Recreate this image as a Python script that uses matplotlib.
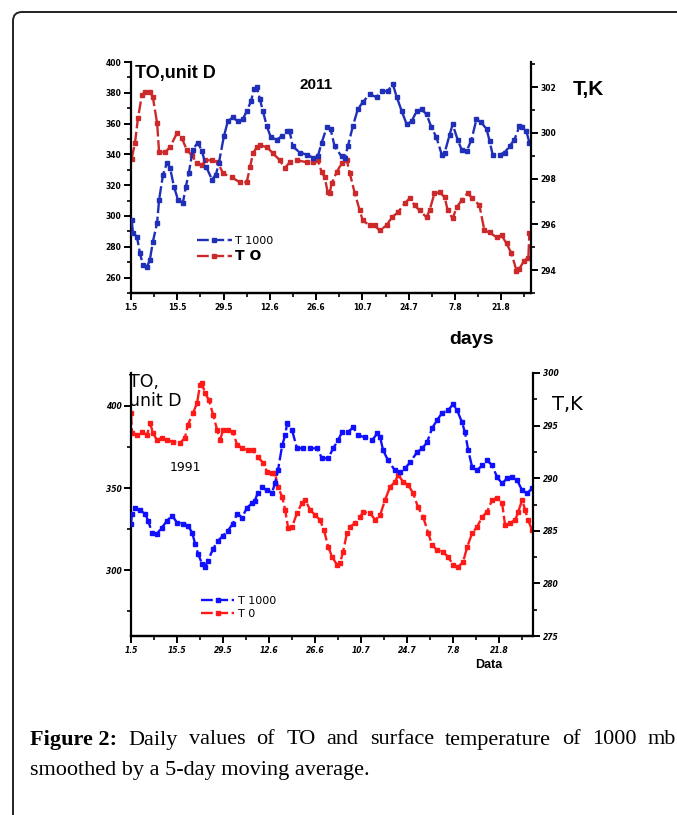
import matplotlib
matplotlib.use("Agg")
import matplotlib.pyplot as plt
from matplotlib.patches import FancyBboxPatch
from matplotlib.transforms import IdentityTransform
from matplotlib.ticker import MultipleLocator

# ---- 2011 panel (days since start) ----
days_to_2011 = [0.2, 1.2, 2.1, 3.3, 4.2, 5.7, 6.6, 7.9, 8.5, 10.3, 11.8, 13.9, 15.4, 16.9,
                18.4, 19.9, 21.5, 22.4, 24.5, 26.3, 27.8, 30.5, 32.9, 35.0, 36.0, 36.9,
                38.1, 39.0, 41.1, 42.9, 45.0, 46.5, 48.0, 50.2, 53.2, 55.0, 56.5, 57.7,
                58.6, 59.5, 60.1, 60.7, 62.2, 63.7, 65.3, 66.2, 67.7, 69.2, 70.1, 72.2,
                73.7, 75.2, 77.3, 78.9, 80.7, 82.8, 84.3, 85.8, 87.3, 89.4, 90.3, 91.8,
                93.4, 94.9, 95.8, 97.3, 98.5, 100.0, 101.8, 103.3, 105.4, 106.9, 108.5,
                110.6, 112.1, 113.6, 115.1, 116.6, 117.5, 119.0, 120.2, 120.5]
to_2011 = [337.3, 347.3, 363.5, 378.5, 380.5, 380.5, 377.2, 360.3, 341.4, 341.4, 344.7,
           353.8, 350.5, 342.7, 339.5, 334.2, 332.9, 336.2, 336.2, 334.9, 327.7, 325.1,
           321.9, 321.9, 331.6, 340.8, 344.7, 346.0, 344.7, 340.8, 336.2, 331.0, 334.9,
           336.2, 334.9, 334.9, 336.2, 328.4, 325.1, 315.4, 314.7, 321.2, 328.4, 334.2,
           336.2, 327.7, 314.7, 303.6, 297.1, 293.9, 293.9, 290.6, 293.9, 299.1, 302.3,
           308.2, 311.5, 306.9, 303.6, 299.1, 303.6, 314.7, 315.4, 312.1, 303.6, 298.4,
           305.6, 310.2, 314.7, 311.5, 306.9, 290.6, 289.3, 286.1, 287.4, 282.2, 275.7,
           264.6, 265.9, 271.1, 273.0, 288.7]

days_t_2011 = [0.2, 0.6, 1.8, 2.7, 3.6, 4.8, 5.7, 6.6, 7.9, 8.5, 9.7, 10.9, 11.8, 13.0,
               14.2, 15.7, 16.6, 17.5, 18.7, 20.2, 21.5, 22.7, 24.5, 25.7, 26.6, 28.1,
               29.3, 30.8, 32.3, 33.8, 35.0, 36.3, 37.2, 38.1, 39.0, 39.9, 41.1, 42.3,
               44.1, 45.6, 47.1, 48.0, 48.9, 51.1, 53.2, 55.0, 56.5, 57.7, 59.2, 60.4,
               61.6, 63.7, 64.7, 65.6, 67.1, 68.6, 70.1, 72.2, 74.3, 75.8, 77.6, 79.2,
               80.4, 81.9, 83.4, 84.9, 86.4, 87.9, 89.4, 90.9, 92.4, 94.0, 94.9, 96.4,
               97.3, 98.8, 100.0, 101.5, 103.0, 104.5, 106.0, 107.6, 108.5, 109.4, 111.5,
               113.0, 114.5, 116.0, 117.5, 118.4, 119.6, 120.5]
t1000_2011 = [296.20, 295.63, 295.45, 294.75, 294.22, 294.13, 294.44, 295.23, 296.07,
              297.08, 298.18, 298.70, 298.48, 297.65, 297.08, 296.95, 297.65, 298.26,
              299.27, 299.58, 299.19, 298.53, 297.96, 298.18, 298.70, 299.85, 300.51,
              300.68, 300.51, 300.59, 300.95, 301.38, 301.91, 302.00, 301.47, 300.95,
              300.29, 299.80, 299.71, 299.85, 300.07, 300.07, 299.41, 299.14, 299.05,
              298.92, 298.97, 299.58, 300.24, 300.15, 299.41, 298.97, 298.92, 299.41,
              300.29, 301.03, 301.34, 301.69, 301.56, 301.82, 301.82, 302.13, 301.56,
              300.95, 300.37, 300.51, 300.95, 301.03, 300.81, 300.24, 299.80, 299.05,
              299.14, 299.93, 300.37, 299.71, 299.27, 299.19, 299.71, 300.59, 300.46,
              300.15, 299.63, 299.05, 299.05, 299.14, 299.41, 299.71, 300.29, 300.24,
              300.07, 299.58]

# ---- 1991 panel ----
days_to_1991 = [0.0, 0.3, 1.8, 3.3, 4.9, 5.8, 6.7, 7.9, 9.4, 11.0, 12.8, 14.9, 16.4, 17.3,
                18.9, 20.1, 21.0, 21.6, 22.5, 23.7, 25.0, 26.2, 27.1, 28.0, 29.5, 31.0,
                32.3, 33.8, 35.6, 37.1, 38.6, 40.2, 41.4, 42.9, 43.8, 44.7, 46.0, 46.9,
                47.8, 49.0, 50.5, 52.0, 53.0, 54.5, 56.0, 57.5, 58.7, 60.0, 61.2, 62.7,
                63.6, 64.5, 65.7, 66.6, 68.2, 69.7, 70.6, 72.7, 74.3, 75.8, 77.3, 78.8,
                80.3, 81.3, 82.8, 84.3, 85.8, 87.3, 88.9, 90.4, 91.6, 93.1, 94.9, 96.5,
                98.0, 99.5, 101.0, 102.3, 103.8, 105.3, 106.8, 108.3, 109.9, 111.4, 112.9,
                113.8, 115.3, 116.9, 117.8, 119.0, 119.9, 120.8, 122.0]
to_1991 = [395.7, 383.5, 382.3, 384.1, 382.3, 389.6, 383.5, 379.2, 380.5, 379.2, 378.0,
           377.4, 380.5, 388.4, 395.7, 401.8, 412.7, 413.9, 407.8, 403.6, 394.5, 385.3,
           379.2, 385.3, 385.3, 384.1, 376.2, 374.4, 373.2, 373.2, 368.9, 365.3, 359.8,
           359.2, 359.2, 350.7, 344.6, 336.7, 325.7, 326.3, 334.8, 340.9, 342.8, 336.7,
           333.6, 330.6, 324.5, 314.2, 308.1, 303.2, 304.4, 311.1, 322.7, 326.3, 328.8,
           332.4, 335.5, 334.8, 330.6, 333.6, 342.8, 350.7, 353.7, 358.0, 353.7, 351.9,
           347.0, 338.5, 332.4, 322.7, 315.4, 312.3, 311.1, 308.1, 303.2, 302.0, 305.0,
           314.2, 322.7, 326.3, 332.4, 335.5, 342.8, 344.0, 340.9, 327.5, 328.8, 330.6,
           335.5, 342.8, 336.7, 330.6, 324.5]

days_t_1991 = [0.0, 0.3, 1.2, 2.7, 4.3, 5.2, 6.4, 7.9, 9.4, 11.0, 12.5, 14.0, 15.8, 17.3,
               18.6, 19.5, 20.4, 21.6, 22.5, 23.4, 25.0, 26.5, 28.0, 29.5, 31.0, 32.3,
               33.8, 35.3, 36.8, 37.7, 38.6, 39.9, 41.4, 42.9, 43.8, 44.7, 46.0, 46.9,
               47.5, 49.0, 50.5, 52.3, 54.5, 56.6, 58.1, 60.0, 61.5, 63.0, 64.2, 66.0,
               67.6, 69.1, 71.2, 73.4, 74.9, 75.8, 76.7, 78.2, 80.3, 81.9, 83.4, 84.9,
               87.0, 88.6, 90.1, 91.6, 93.1, 94.6, 96.5, 98.0, 99.2, 100.7, 101.6, 102.6,
               103.8, 105.3, 106.8, 108.3, 109.9, 111.4, 112.9, 114.4, 115.9, 117.5,
               119.0, 120.5, 122.0]
t1000_1991 = [285.69, 286.64, 287.12, 286.93, 286.64, 285.97, 284.83, 284.73, 285.31,
              285.97, 286.45, 285.78, 285.69, 285.50, 284.83, 283.78, 282.82, 281.87,
              281.58, 282.16, 283.30, 284.06, 284.54, 285.02, 285.69, 286.64, 286.26,
              287.21, 287.60, 287.88, 288.64, 289.12, 288.84, 288.64, 289.50, 290.74,
              293.13, 294.08, 295.23, 294.56, 292.84, 292.84, 292.84, 292.84, 291.89,
              291.89, 292.84, 293.61, 294.37, 294.37, 294.85, 294.08, 293.89, 293.61,
              294.27, 293.89, 292.65, 291.70, 290.74, 290.55, 290.94, 291.51, 292.46,
              292.84, 293.42, 294.75, 295.52, 296.18, 296.47, 297.04, 296.47, 295.32,
              294.37, 292.65, 291.03, 290.74, 291.22, 291.70, 291.22, 290.08, 289.50,
              289.98, 290.08, 289.79, 288.84, 288.55, 289.03]

date_ticks = [0, 14, 28, 42, 56, 70, 84, 98, 112]
date_labels = ["1.5", "15.5", "29.5", "12.6", "26.6", "10.7", "24.7", "7.8", "21.8"]

caption_head = "Figure 2:"
caption_l1 = "Daily values of TO and surface temperature of 1000 mb"
caption_l2 = "smoothed by a 5-day moving average."

NARROW = ["Liberation Sans", "DejaVu Sans"]
W, H = 677, 815


def style_axes(ax, axr, fs, lab_style):
    for a in (ax, axr):
        a.spines["top"].set_visible(False)
        for s in ("left", "right", "bottom"):
            a.spines[s].set_linewidth(1.6)
        a.tick_params(which="major", length=5, width=1.4, direction="out",
                      labelsize=fs, pad=2)
        a.tick_params(which="minor", length=3, width=1.2, direction="out")
        for lab in a.get_xticklabels() + a.get_yticklabels():
            lab.set_fontweight("bold")
            lab.set_fontstyle(lab_style)
    ax.spines["right"].set_visible(False)
    axr.spines["left"].set_visible(False)
    ax.set_xticks(date_ticks)
    ax.set_xticklabels(date_labels, fontsize=fs, fontweight="bold", fontstyle=lab_style)
    ax.xaxis.set_minor_locator(MultipleLocator(7))


fig = plt.figure(figsize=(W / 100, H / 100), dpi=100)
fig.patch.set_facecolor("white")

# rounded frame around the figure
fig.add_artist(FancyBboxPatch((13, -30), 720, H - 12 + 30,
                              boxstyle="round,pad=0,rounding_size=9",
                              transform=IdentityTransform(), fill=False,
                              ec="#222222", lw=1.4))

line_kw = dict(linestyle=(0, (5, 1.5)), linewidth=1.7, marker="s", markersize=2.2)

# ---------------- top panel (2011) ----------------
ax1 = fig.add_axes([131 / W, 1 - 293 / H, 400 / W, 231 / H])
ax1r = ax1.twinx()
h_red, = ax1.plot(days_to_2011, to_2011, color="#cc2a2a", label="T O", **line_kw)
h_blue, = ax1r.plot(days_t_2011, t1000_2011, color="#1f2fb8", label="T 1000", **line_kw)
ax1.set_xlim(0, 121)
ax1.set_ylim(250, 400)
ax1.set_yticks([260, 280, 300, 320, 340, 360, 380, 400])
ax1.yaxis.set_minor_locator(MultipleLocator(10))
ax1r.set_ylim(293, 303.1)
ax1r.set_yticks([294, 296, 298, 300, 302])
ax1r.yaxis.set_minor_locator(MultipleLocator(1))
style_axes(ax1, ax1r, 5.5, "normal")

ax1.text(0.01, 0.985, "TO,unit D", transform=ax1.transAxes, ha="left", va="top",
         family=NARROW, fontweight="bold", fontsize=13)
ax1.text(0.42, 0.93, "2011", transform=ax1.transAxes, ha="left", va="top",
         family=NARROW, fontweight="bold", fontsize=11)
fig.text(573 / W, 1 - 90 / H, "T,K", ha="left", va="center",
         family=NARROW, fontweight="bold", fontsize=15)
fig.text(471 / W, 1 - 340 / H, "days", ha="center", va="center",
         family=NARROW, fontweight="bold", fontsize=14)
leg1 = ax1.legend([h_blue, h_red], ["T 1000", "T O"], loc="upper left",
                  bbox_to_anchor=(0.15, 0.27), frameon=False, handlelength=3.2,
                  fontsize=8, labelspacing=0.25, borderpad=0, handletextpad=0.3)
leg1.get_texts()[1].set_fontweight("bold")
leg1.get_texts()[1].set_fontsize(10)

# ---------------- bottom panel (1991) ----------------
ax2 = fig.add_axes([131 / W, 1 - 636 / H, 402 / W, 263 / H])
ax2r = ax2.twinx()
h_red2, = ax2.plot(days_to_1991, to_1991, color="#ff1a1a", label="T 0", **line_kw)
h_blue2, = ax2r.plot(days_t_1991, t1000_1991, color="#1010ff", label="T 1000", **line_kw)
ax2.set_xlim(0, 122.3)
ax2.set_ylim(260, 420)
ax2.set_yticks([300, 350, 400])
ax2.yaxis.set_minor_locator(MultipleLocator(25))
ax2r.set_ylim(275, 300)
ax2r.set_yticks([275, 280, 285, 290, 295, 300])
ax2r.yaxis.set_minor_locator(MultipleLocator(2.5))
style_axes(ax2, ax2r, 5.5, "italic")

ax2.text(-0.005, 1.0, "TO,\nunit D", transform=ax2.transAxes, ha="left", va="top",
         fontsize=12.5, linespacing=1.05)
ax2.text(0.095, 0.64, "1991", transform=ax2.transAxes, ha="left", va="center",
         fontsize=9)
fig.text(552 / W, 1 - 405 / H, "T,K", ha="left", va="center", fontsize=14)
fig.text(475 / W, 1 - 665 / H, "Data", ha="left", va="center",
         family=NARROW, fontweight="bold", fontsize=9)
ax2.legend([h_blue2, h_red2], ["T 1000", "T 0"], loc="upper left",
           bbox_to_anchor=(0.16, 0.175), frameon=False, handlelength=3.0,
           fontsize=8, labelspacing=0.3, borderpad=0, handletextpad=0.3)

# ---------------- caption (first line justified) ----------------
cap_font = ["Liberation Serif", "DejaVu Serif"]
cap_fs = 16
words = [(caption_head, "bold")] + [(w, "normal") for w in caption_l1.split()]
renderer = fig.canvas.get_renderer()
texts = [fig.text(0, 1 - 740 / H, w, ha="left", va="center", family=cap_font,
                  fontweight=wt, fontsize=cap_fs) for w, wt in words]
widths = [t.get_window_extent(renderer).width for t in texts]
x_start, x_end = 30, 676
gap = (x_end - x_start - sum(widths)) / (len(words) - 1)
x = x_start
for t, w in zip(texts, widths):
    t.set_x(x / W)
    x += w + gap
fig.text(x_start / W, 1 - 771 / H, caption_l2, ha="left", va="center",
         family=cap_font, fontsize=cap_fs)

fig.savefig("out.png", dpi=100, facecolor="white")
